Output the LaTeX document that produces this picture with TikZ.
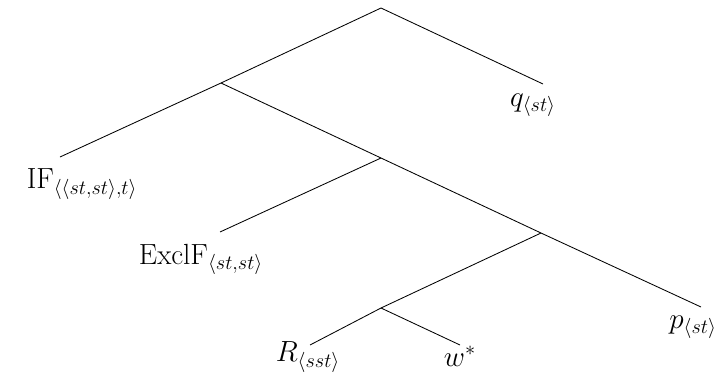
\documentclass[tikz,border=0pt]{standalone}
\usepackage{amsmath}
\usepackage{tikz}
\usetikzlibrary{positioning}

\begin{document}
\begin{tikzpicture}[
    x=0.025cm, y=-0.025cm,
    branch/.style={line width=0.6pt, color=black},
    leaf/.style={inner sep=1pt, font=\fontsize{21}{25}\selectfont}
]
\useasboundingbox (0,0) rectangle (720,390);

% inner points of the tree
\coordinate (root) at (381,8);
\coordinate (nA) at (221,83);
\coordinate (nB) at (381,158);
\coordinate (nC) at (541,233);
\coordinate (nD) at (381,308);

% ends of the branches
\coordinate (endIF) at (60,157);
\coordinate (endQ) at (543,84);
\coordinate (endExcl) at (220,232);
\coordinate (endP) at (701,307);
\coordinate (endR) at (310,345);
\coordinate (endW) at (460,345);

% labels
\node[leaf] (lblIF) at (82,184) {$\mathrm{IF}_{\langle\langle st,st\rangle,t\rangle}$};
\node[leaf] (lblQ) at (533,105) {$q_{\langle st\rangle}$};
\node[leaf] (lblExcl) at (201,259) {$\mathrm{ExclF}_{\langle st,st\rangle}$};
\node[leaf] (lblP) at (693,327) {$p_{\langle st\rangle}$};
\node[leaf] (lblR) at (308,357) {$R_{\langle sst\rangle}$};
\node[leaf] (lblW) at (460,356) {$w^{*}$};

\draw[branch] (root) -- (nA);
\draw[branch] (nA) -- (endIF);
\draw[branch] (root) -- (endQ);
\draw[branch] (nA) -- (nB);
\draw[branch] (nB) -- (endExcl);
\draw[branch] (nB) -- (nC);
\draw[branch] (nC) -- (endP);
\draw[branch] (nC) -- (nD);
\draw[branch] (nD) -- (endR);
\draw[branch] (nD) -- (endW);

\end{tikzpicture}
\end{document}
